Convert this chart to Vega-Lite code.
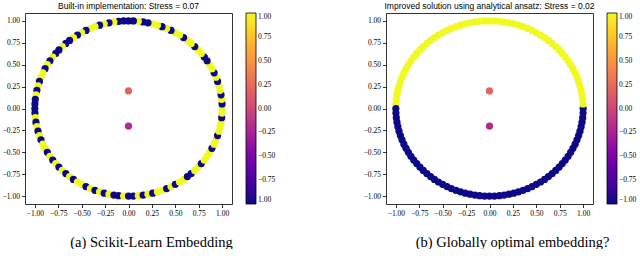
{
  "$schema": "https://vega.github.io/schema/vega-lite/v6.json",
  "background": "white",
  "padding": {"left": 1, "top": 1, "right": 0, "bottom": 0},
  "spacing": 85,
  "datasets": {
    "pts": [
      {"x":1,"y":0,"a":1,"b":-1},{"x":0.999,"y":0.052,"a":-1,"b":1},{"x":0.995,"y":0.105,"a":1,"b":1},{"x":0.988,"y":0.156,"a":-1,"b":1},{"x":0.978,"y":0.208,"a":1,"b":1},{"x":0.966,"y":0.259,"a":1,"b":1},{"x":0.951,"y":0.309,"a":-1,"b":1},{"x":0.934,"y":0.358,"a":1,"b":1},{"x":0.914,"y":0.407,"a":-1,"b":1},{"x":0.891,"y":0.454,"a":1,"b":1},
      {"x":0.866,"y":0.5,"a":1,"b":1},{"x":0.839,"y":0.545,"a":-1,"b":1},{"x":0.809,"y":0.588,"a":-1,"b":1},{"x":0.777,"y":0.629,"a":1,"b":1},{"x":0.743,"y":0.669,"a":1,"b":1},{"x":0.707,"y":0.707,"a":-1,"b":1},{"x":0.669,"y":0.743,"a":1,"b":1},{"x":0.629,"y":0.777,"a":1,"b":1},{"x":0.588,"y":0.809,"a":-1,"b":1},{"x":0.545,"y":0.839,"a":1,"b":1},
      {"x":0.5,"y":0.866,"a":1,"b":1},{"x":0.454,"y":0.891,"a":-1,"b":1},{"x":0.407,"y":0.914,"a":1,"b":1},{"x":0.358,"y":0.934,"a":-1,"b":1},{"x":0.309,"y":0.951,"a":1,"b":1},{"x":0.259,"y":0.966,"a":1,"b":1},{"x":0.208,"y":0.978,"a":-1,"b":1},{"x":0.156,"y":0.988,"a":-1,"b":1},{"x":0.105,"y":0.995,"a":1,"b":1},{"x":0.052,"y":0.999,"a":-1,"b":1},
      {"x":0,"y":1,"a":-1,"b":1},{"x":-0.052,"y":0.999,"a":-1,"b":1},{"x":-0.105,"y":0.995,"a":-1,"b":1},{"x":-0.156,"y":0.988,"a":1,"b":1},{"x":-0.208,"y":0.978,"a":-1,"b":1},{"x":-0.259,"y":0.966,"a":1,"b":1},{"x":-0.309,"y":0.951,"a":-1,"b":1},{"x":-0.358,"y":0.934,"a":1,"b":1},{"x":-0.407,"y":0.914,"a":1,"b":1},{"x":-0.454,"y":0.891,"a":-1,"b":1},
      {"x":-0.5,"y":0.866,"a":1,"b":1},{"x":-0.545,"y":0.839,"a":-1,"b":1},{"x":-0.588,"y":0.809,"a":1,"b":1},{"x":-0.629,"y":0.777,"a":-1,"b":1},{"x":-0.669,"y":0.743,"a":-1,"b":1},{"x":-0.707,"y":0.707,"a":1,"b":1},{"x":-0.743,"y":0.669,"a":-1,"b":1},{"x":-0.777,"y":0.629,"a":-1,"b":1},{"x":-0.809,"y":0.588,"a":1,"b":1},{"x":-0.839,"y":0.545,"a":-1,"b":1},
      {"x":-0.866,"y":0.5,"a":1,"b":1},{"x":-0.891,"y":0.454,"a":-1,"b":1},{"x":-0.914,"y":0.407,"a":1,"b":1},{"x":-0.934,"y":0.358,"a":1,"b":1},{"x":-0.951,"y":0.309,"a":-1,"b":1},{"x":-0.966,"y":0.259,"a":1,"b":1},{"x":-0.978,"y":0.208,"a":-1,"b":1},{"x":-0.988,"y":0.156,"a":1,"b":1},{"x":-0.995,"y":0.105,"a":-1,"b":1},{"x":-0.999,"y":0.052,"a":-1,"b":1},
      {"x":-1,"y":0,"a":-1,"b":-1},{"x":-0.999,"y":-0.052,"a":-1,"b":-1},{"x":-0.995,"y":-0.105,"a":1,"b":-1},{"x":-0.988,"y":-0.156,"a":-1,"b":-1},{"x":-0.978,"y":-0.208,"a":1,"b":-1},{"x":-0.966,"y":-0.259,"a":-1,"b":-1},{"x":-0.951,"y":-0.309,"a":1,"b":-1},{"x":-0.934,"y":-0.358,"a":-1,"b":-1},{"x":-0.914,"y":-0.407,"a":1,"b":-1},{"x":-0.891,"y":-0.454,"a":1,"b":-1},
      {"x":-0.866,"y":-0.5,"a":-1,"b":-1},{"x":-0.839,"y":-0.545,"a":1,"b":-1},{"x":-0.809,"y":-0.588,"a":-1,"b":-1},{"x":-0.777,"y":-0.629,"a":1,"b":-1},{"x":-0.743,"y":-0.669,"a":-1,"b":-1},{"x":-0.707,"y":-0.707,"a":1,"b":-1},{"x":-0.669,"y":-0.743,"a":-1,"b":-1},{"x":-0.629,"y":-0.777,"a":1,"b":-1},{"x":-0.588,"y":-0.809,"a":-1,"b":-1},{"x":-0.545,"y":-0.839,"a":1,"b":-1},
      {"x":-0.5,"y":-0.866,"a":1,"b":-1},{"x":-0.454,"y":-0.891,"a":-1,"b":-1},{"x":-0.407,"y":-0.914,"a":1,"b":-1},{"x":-0.358,"y":-0.934,"a":-1,"b":-1},{"x":-0.309,"y":-0.951,"a":1,"b":-1},{"x":-0.259,"y":-0.966,"a":-1,"b":-1},{"x":-0.208,"y":-0.978,"a":1,"b":-1},{"x":-0.156,"y":-0.988,"a":-1,"b":-1},{"x":-0.105,"y":-0.995,"a":-1,"b":-1},{"x":-0.052,"y":-0.999,"a":1,"b":-1},
      {"x":0,"y":-1,"a":-1,"b":-1},{"x":0.052,"y":-0.999,"a":-1,"b":-1},{"x":0.105,"y":-0.995,"a":1,"b":-1},{"x":0.156,"y":-0.988,"a":-1,"b":-1},{"x":0.208,"y":-0.978,"a":1,"b":-1},{"x":0.259,"y":-0.966,"a":-1,"b":-1},{"x":0.309,"y":-0.951,"a":1,"b":-1},{"x":0.358,"y":-0.934,"a":1,"b":-1},{"x":0.407,"y":-0.914,"a":-1,"b":-1},{"x":0.454,"y":-0.891,"a":1,"b":-1},
      {"x":0.5,"y":-0.866,"a":-1,"b":-1},{"x":0.545,"y":-0.839,"a":1,"b":-1},{"x":0.588,"y":-0.809,"a":1,"b":-1},{"x":0.629,"y":-0.777,"a":-1,"b":-1},{"x":0.669,"y":-0.743,"a":-1,"b":-1},{"x":0.707,"y":-0.707,"a":1,"b":-1},{"x":0.743,"y":-0.669,"a":1,"b":-1},{"x":0.777,"y":-0.629,"a":-1,"b":-1},{"x":0.809,"y":-0.588,"a":1,"b":-1},{"x":0.839,"y":-0.545,"a":1,"b":-1},
      {"x":0.866,"y":-0.5,"a":1,"b":-1},{"x":0.891,"y":-0.454,"a":-1,"b":-1},{"x":0.914,"y":-0.407,"a":1,"b":-1},{"x":0.934,"y":-0.358,"a":1,"b":-1},{"x":0.951,"y":-0.309,"a":-1,"b":-1},{"x":0.966,"y":-0.259,"a":1,"b":-1},{"x":0.978,"y":-0.208,"a":1,"b":-1},{"x":0.988,"y":-0.156,"a":1,"b":-1},{"x":0.995,"y":-0.105,"a":-1,"b":-1},{"x":0.999,"y":-0.052,"a":1,"b":-1},
      {"x":0,"y":0.2,"a":0.2,"b":0.2},{"x":0,"y":-0.2,"a":-0.2,"b":-0.2}
    ]
  },
  "hconcat": [
    {
      "width": 207, "height": 191,
      "data": {"name": "pts"},
      "title": {"text": "Built-in implementation: Stress = 0.07"},
      "mark": {"type": "circle", "size": 52, "opacity": 1},
      "encoding": {
        "x": {"field": "x", "type": "quantitative", "scale": {"domain": [-1.105, 1.105], "nice": false, "zero": false},
              "axis": {"values": [-1, -0.75, -0.5, -0.25, 0, 0.25, 0.5, 0.75, 1], "format": ".2f", "title": "(a) Scikit-Learn Embedding"}},
        "y": {"field": "y", "type": "quantitative", "scale": {"domain": [-1.09, 1.09], "nice": false, "zero": false},
              "axis": {"values": [-1, -0.75, -0.5, -0.25, 0, 0.25, 0.5, 0.75, 1], "format": ".2f", "title": null}},
        "color": {"field": "a", "type": "quantitative", "scale": {"scheme": "plasma", "domain": [-1, 1]},
                  "legend": {"values": [-1, -0.75, -0.5, -0.25, 0, 0.25, 0.5, 0.75, 1], "format": ".2f",
                             "labelExpr": "datum.value == -1 ? '1.00' : datum.label"}}
      }
    },
    {
      "width": 207, "height": 191,
      "data": {"name": "pts"},
      "title": {"text": "Improved solution using analytical ansatz: Stress = 0.02"},
      "mark": {"type": "circle", "size": 52, "opacity": 1},
      "encoding": {
        "x": {"field": "x", "type": "quantitative", "scale": {"domain": [-1.105, 1.105], "nice": false, "zero": false},
              "axis": {"values": [-1, -0.75, -0.5, -0.25, 0, 0.25, 0.5, 0.75, 1], "format": ".2f", "title": "(b) Globally optimal embedding?"}},
        "y": {"field": "y", "type": "quantitative", "scale": {"domain": [-1.09, 1.09], "nice": false, "zero": false},
              "axis": {"values": [-1, -0.75, -0.5, -0.25, 0, 0.25, 0.5, 0.75, 1], "format": ".2f", "title": null}},
        "color": {"field": "b", "type": "quantitative", "scale": {"scheme": "plasma", "domain": [-1, 1]},
                  "legend": {"values": [-1, -0.75, -0.5, -0.25, 0, 0.25, 0.5, 0.75, 1], "format": ".2f"}}
      }
    }
  ],
  "resolve": {"scale": {"color": "independent"}, "legend": {"color": "independent"}},
  "config": {
    "view": {"stroke": "#333", "strokeWidth": 1},
    "axis": {
      "domain": false, "grid": false, "tickColor": "#000", "tickSize": 3.5, "tickWidth": 0.8,
      "labelFont": "Liberation Serif", "labelFontSize": 7.5, "labelColor": "#000", "labelPadding": 2,
      "titleFont": "Liberation Serif", "titleFontSize": 14.5, "titleFontWeight": "normal", "titleColor": "#000",
      "titleX": 126, "titleY": 42, "titleBaseline": "alphabetic", "titleAlign": "center", "titleAngle": 0
    },
    "legend": {
      "title": null, "orient": "right", "offset": 14, "padding": 0,
      "gradientLength": 191, "gradientThickness": 10, "gradientStrokeColor": "#000", "gradientStrokeWidth": 0.8,
      "labelFont": "Liberation Serif", "labelFontSize": 7.5, "labelColor": "#000", "labelOffset": 3, "labelOverlap": false
    },
    "title": {"font": "Liberation Sans", "fontSize": 8.5, "fontWeight": "normal", "color": "#000", "offset": 3, "anchor": "middle"}
  }
}
